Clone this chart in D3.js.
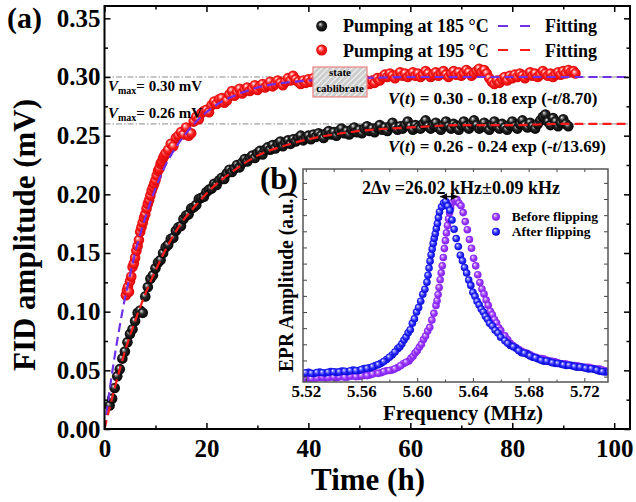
<!DOCTYPE html>
<meta charset="utf-8">
<head>
<title>FID amplitude vs pumping time</title>
<script src="https://d3js.org/d3.v7.min.js"></script>
<style>
body { margin: 0; background: #fff; }
svg text { font-family: "Liberation Serif", "Times New Roman", serif; font-weight: bold; fill: #000; }
</style>
</head>
<body>
<script>

// ---- data ----
// FID amplitude (mV) vs time (h), pumping at 185 C
var pump185 = [[1.0,.020],[1.5,.026],[2.0,.035],[2.5,.045],[3.0,.051],[3.5,.060],[4.0,.066],[4.5,.074],[5.0,.081],[5.5,.085],
  [6.0,.092],[6.5,.099],[7.0,.101],[7.5,.099],[8.0,.113],[8.5,.121],[9.0,.128],[9.5,.131],[10.0,.137],[10.5,.142],
  [11.0,.144],[11.5,.150],[12.0,.155],[12.5,.157],[13.0,.162],[13.5,.163],[14.0,.169],[14.5,.172],[15.0,.173],[15.5,.179],
  [16.0,.182],[16.5,.183],[17.0,.188],[17.5,.189],[18.0,.191],[18.5,.196],[19.0,.197],[19.5,.198],[20.0,.202],[20.5,.204],
  [21.0,.205],[21.5,.209],[22.0,.208],[22.5,.212],[23.0,.214],[23.5,.213],[24.0,.218],[24.5,.221],[25.0,.219],[25.5,.222],
  [26.0,.225],[26.5,.223],[27.0,.227],[27.5,.230],[28.0,.228],[28.5,.231],[29.0,.233],[29.5,.231],[30.0,.235],[30.5,.237],
  [31.0,.234],[31.5,.238],[32.0,.240],[32.5,.238],[33.0,.242],[33.5,.239],[34.0,.243],[34.5,.245],[35.0,.241],[35.5,.244],
  [36.0,.246],[36.5,.243],[37.0,.247],[37.5,.245],[38.0,.248],[38.5,.250],[39.0,.246],[39.5,.248],[40.0,.250],[40.5,.247],
  [41.0,.251],[41.5,.249],[42.0,.252],[42.5,.250],[43.0,.248],[43.5,.252],[44.0,.254],[44.5,.251],[45.0,.253],[45.5,.250],
  [46.0,.254],[46.5,.256],[47.0,.252],[47.5,.254],[48.0,.251],[48.5,.255],[49.0,.257],[49.5,.253],[50.0,.255],[50.5,.252],
  [51.0,.256],[51.5,.258],[52.0,.254],[52.5,.256],[53.0,.253],[53.5,.257],[54.0,.259],[54.5,.255],[55.0,.257],[55.5,.254],
  [56.0,.258],[56.5,.261],[57.0,.257],[57.5,.255],[58.0,.258],[58.5,.256],[59.0,.259],[59.5,.262],[60.0,.258],[60.5,.255],
  [61.0,.259],[61.5,.257],[62.0,.256],[62.5,.260],[63.0,.263],[63.5,.258],[64.0,.256],[64.5,.259],[65.0,.261],[65.5,.257],
  [66.0,.255],[66.5,.259],[67.0,.262],[67.5,.258],[68.0,.256],[68.5,.260],[69.0,.258],[69.5,.255],[70.0,.259],[70.5,.262],
  [71.0,.258],[71.5,.256],[72.0,.260],[72.5,.263],[73.0,.259],[73.5,.256],[74.0,.258],[74.5,.261],[75.0,.257],[75.5,.255],
  [76.0,.259],[76.5,.262],[77.0,.258],[77.5,.256],[78.0,.260],[78.5,.257],[79.0,.255],[79.5,.259],[80.0,.262],[80.5,.258],
  [81.0,.256],[81.5,.260],[82.0,.263],[82.5,.259],[83.0,.257],[83.5,.261],[84.0,.258],[84.5,.256],[85.0,.260],[85.5,.263],
  [86.0,.266],[86.5,.268],[87.0,.262],[87.5,.259],[88.0,.265],[88.5,.262],[89.0,.258],[89.5,.261],[90.0,.264],[90.5,.260],
  [91.0,.258]];

// pumping at 195 C
var pump195 = [[4.2,.114],[4.4,.118],[4.6,.121],[4.8,.117],[5.0,.126],[5.25,.130],[5.5,.138],[5.75,.141],[6.0,.146],[6.25,.152],
  [6.5,.156],[6.75,.161],[7.0,.168],[7.25,.172],[7.5,.176],[7.75,.180],[8.0,.183],[8.25,.188],[8.5,.192],[8.75,.195],
  [9.0,.199],[9.25,.203],[9.5,.206],[9.75,.209],[10.0,.212],[10.25,.216],[10.5,.220],[10.75,.222],[11.0,.226],[11.25,.228],
  [11.5,.231],[11.75,.233],[12.0,.235],[12.5,.238],[13.0,.243],[13.5,.241],[14.0,.248],[14.5,.250],[15.0,.253],[15.5,.251],
  [16.0,.257],[16.5,.250],[17.0,.252],[17.5,.262],[18.0,.266],[18.5,.264],[19.0,.269],[19.5,.271],[20.0,.272],[20.5,.270],
  [21.0,.276],[21.5,.279],[22.0,.277],[22.5,.281],[23.0,.282],[23.5,.278],[24.0,.280],[24.5,.285],[25.0,.288],[25.5,.284],
  [26.0,.287],[26.5,.290],[27.0,.286],[27.5,.289],[28.0,.291],[28.5,.288],[29.0,.290],[29.5,.293],[30.0,.289],[30.5,.292],
  [31.0,.294],[31.5,.291],[32.0,.293],[32.5,.296],[33.0,.292],[33.5,.294],[34.0,.297],[34.5,.295],[35.0,.293],[35.5,.296],
  [36.0,.299],[36.5,.297],[37.0,.301],[37.5,.298],[38.0,.296],[38.5,.294],[39.0,.297],[39.5,.295],[40.0,.298],[40.5,.296],
  [41.0,.299],[41.5,.297],[42.0,.300],[42.5,.298],[43.0,.301],[43.5,.299],[44.0,.297],[44.5,.300],[45.0,.302],[45.5,.299],
  [46.0,.298],[46.5,.301],[47.0,.299],[47.5,.297],[48.0,.300],[48.5,.298],[49.0,.296],[49.5,.299],[50.0,.297],[50.5,.295],
  [51.0,.298],[51.5,.296],[52.0,.294],[52.5,.297],[53.0,.295],[53.5,.299],[54.0,.297],[54.5,.300],[55.0,.302],[55.5,.300],
  [56.0,.303],[56.5,.301],[57.0,.299],[57.5,.302],[58.0,.304],[58.5,.301],[59.0,.303],[59.5,.300],[60.0,.302],[60.5,.304],
  [61.0,.301],[61.5,.303],[62.0,.300],[62.5,.302],[63.0,.305],[63.5,.303],[64.0,.300],[64.5,.302],[65.0,.304],[65.5,.301],
  [66.0,.303],[66.5,.305],[67.0,.302],[67.5,.300],[68.0,.303],[68.5,.305],[69.0,.302],[69.5,.304],[70.0,.301],[70.5,.303],
  [71.0,.306],[71.5,.304],[72.0,.301],[72.5,.303],[73.0,.305],[73.5,.307],[74.0,.304],[74.5,.306],[75.0,.303],[75.5,.299],
  [76.0,.296],[76.5,.294],[77.0,.297],[77.5,.295],[78.0,.298],[78.5,.300],[79.0,.297],[79.5,.301],[80.0,.299],[80.5,.302],
  [81.0,.300],[81.5,.303],[82.0,.301],[82.5,.299],[83.0,.302],[83.5,.304],[84.0,.301],[84.5,.303],[85.0,.300],[85.5,.302],
  [86.0,.305],[86.5,.303],[87.0,.301],[87.5,.303],[88.0,.300],[88.5,.302],[89.0,.304],[89.5,.302],[90.0,.305],[90.5,.303],
  [91.0,.306],[91.5,.304],[92.0,.305],[92.4,.303]];

// fitted curves as drawn
var fit195 = [[0,0],[1,.033],[2,.062],[3,.088],[4,.111],[5,.131],[6,.150],[7,.166],[8,.180],[9,.193],[10,.205],
  [12,.225],[14,.240],[16,.252],[18,.262],[20,.270],[23,.279],[26,.285],[30,.291],[35,.295],[40,.297],[50,.299],
  [60,.300],[80,.300],[103.1,.300]];
var fit185 = [[0,0],[1,.018],[2,.035],[3,.051],[4,.066],[6,.092],[8,.115],[10,.135],[12,.153],[15,.175],[18,.191],
  [21,.205],[25,.219],[30,.233],[35,.241],[40,.247],[45,.251],[50,.254],[60,.257],[70,.259],[80,.259],[90,.260],
  [103.1,.260]];

var vmax = [0.30, 0.26];
var fitText = ["0.30 - 0.18 exp (-", "0.26 - 0.24 exp (-"];
var fitTau = ["8.70", "13.69"];
var seriesNames = ["Pumping at 185 \u00B0C", "Pumping at 195 \u00B0C"];

var xMajor = [0, 20, 40, 60, 80, 100], xMinor = [10, 30, 50, 70, 90];
var yMajor = [0, .05, .10, .15, .20, .25, .30, .35];
var yMinor = [.025, .075, .125, .175, .225, .275, .325];

// inset: EPR amplitude (a.u.) vs frequency (MHz)
var beforeFlip = [[5.518,-.013],[5.522,-.010],[5.526,-.014],[5.530,-.006],[5.534,-.009],[5.538,-.002],[5.542,-.007],
  [5.546,.001],[5.550,-.003],[5.554,.004],[5.558,.001],[5.562,.007],[5.566,.010],[5.570,.022],[5.574,.024],[5.578,.036],
  [5.582,.041],[5.586,.056],[5.590,.080],[5.594,.097],[5.5955,.113],[5.597,.126],[5.5985,.146],[5.600,.160],[5.6015,.181],
  [5.603,.200],[5.6045,.230],[5.606,.251],[5.6075,.282],[5.609,.305],[5.6105,.350],[5.612,.392],[5.6135,.441],[5.61425,.470],
  [5.615,.508],[5.61575,.552],[5.6165,.600],[5.61725,.643],[5.618,.686],[5.61875,.738],[5.6195,.793],[5.62025,.842],
  [5.621,.890],[5.62175,.936],[5.6225,.978],[5.62325,1.015],[5.624,1.045],[5.6255,1.080],[5.627,1.092],[5.6285,1.097],
  [5.630,1.074],[5.6315,1.058],[5.633,1.016],[5.6345,.960],[5.636,.910],[5.6375,.849],[5.639,.795],[5.6405,.733],
  [5.642,.686],[5.6435,.631],[5.645,.583],[5.6465,.543],[5.648,.512],[5.6495,.474],[5.651,.442],[5.6525,.405],[5.654,.383],
  [5.6555,.354],[5.657,.332],[5.6585,.303],[5.660,.285],[5.663,.252],[5.667,.205],[5.671,.178],[5.675,.156],[5.679,.144],
  [5.683,.126],[5.687,.113],[5.691,.108],[5.695,.096],[5.699,.091],[5.703,.080],[5.707,.078],[5.711,.068],[5.715,.067],
  [5.719,.058],[5.723,.057],[5.727,.049],[5.731,.046],[5.735,.036],
  [5.520,-.008],[5.524,-.013],[5.528,-.009],[5.532,-.004],[5.536,-.006],[5.540,-.003],[5.544,-.002],[5.548,-.004],
  [5.552,.002],[5.556,.000],[5.560,.005],[5.564,.006],[5.568,.016],[5.572,.020],[5.576,.031],[5.580,.038],[5.584,.048],
  [5.588,.067],[5.592,.089],[5.665,.228],[5.669,.190],[5.673,.168],[5.677,.149],[5.681,.135],[5.685,.119],[5.689,.111],
  [5.693,.101],[5.697,.094],[5.701,.085],[5.705,.079],[5.709,.072],[5.713,.068],[5.717,.062],[5.721,.057],[5.725,.053],
  [5.729,.047],[5.733,.041]];
var afterFlip = [[5.518,.018],[5.522,.026],[5.526,.019],[5.530,.028],[5.534,.022],[5.538,.031],[5.542,.026],[5.546,.034],
  [5.550,.030],[5.554,.040],[5.558,.038],[5.562,.050],[5.566,.054],[5.570,.068],[5.574,.082],[5.578,.106],[5.582,.134],
  [5.586,.173],[5.5875,.185],[5.589,.203],[5.5905,.226],[5.592,.245],[5.5935,.272],[5.595,.290],[5.5965,.330],[5.598,.358],
  [5.5995,.400],[5.601,.428],[5.6025,.467],[5.604,.510],[5.6055,.541],[5.607,.585],[5.60775,.628],[5.6085,.672],
  [5.60925,.715],[5.610,.755],[5.61075,.790],[5.6115,.825],[5.61225,.857],[5.613,.885],[5.61375,.917],[5.6145,.948],
  [5.61525,.985],[5.616,1.020],[5.6175,1.052],[5.619,1.075],[5.6205,1.085],[5.622,1.056],[5.6235,1.030],[5.625,.970],
  [5.6265,.913],[5.628,.855],[5.6295,.806],[5.631,.752],[5.6325,.718],[5.634,.676],[5.6355,.642],[5.637,.598],[5.6385,.565],
  [5.640,.522],[5.6415,.497],[5.643,.466],[5.6445,.444],[5.646,.418],[5.6475,.400],[5.649,.374],[5.6505,.355],[5.652,.330],
  [5.654,.313],[5.656,.287],[5.658,.270],[5.660,.244],[5.663,.222],[5.667,.193],[5.671,.175],[5.675,.148],[5.679,.139],
  [5.683,.120],[5.687,.109],[5.691,.095],[5.695,.093],[5.699,.082],[5.703,.079],[5.707,.069],[5.711,.068],[5.715,.058],
  [5.719,.057],[5.723,.047],[5.727,.046],[5.731,.033],[5.735,.028],
  [5.520,.023],[5.524,.021],[5.528,.025],[5.532,.024],[5.536,.027],[5.540,.030],[5.544,.029],[5.548,.033],[5.552,.036],
  [5.556,.037],[5.560,.044],[5.564,.051],[5.568,.061],[5.572,.074],[5.576,.093],[5.580,.120],[5.584,.152],
  [5.665,.206],[5.669,.185],[5.673,.160],[5.677,.145],[5.681,.128],[5.685,.116],[5.689,.101],[5.693,.096],[5.697,.086],
  [5.701,.081],[5.705,.073],[5.709,.070],[5.713,.062],[5.717,.059],[5.721,.052],[5.725,.049],[5.729,.040],[5.733,.031]];
var splitFreqs = [5.6165, 5.629], splitLevel = 1.115;
var fMajor = [5.52, 5.56, 5.60, 5.64, 5.68, 5.72], fMinor = [5.54, 5.58, 5.62, 5.66, 5.70];
var aTicks = [0, .1, .2, .3, .4, .5, .6, .7, .8, .9, 1.0, 1.1, 1.2];
var insetNames = ["Before flipping", "After flipping"];

// ---- set up ----
var svg = d3.select("body").append("svg").attr("width", 636).attr("height", 502);
var defs = svg.append("defs");

var x = d3.scaleLinear().domain([0, 103.1]).range([104.5, 630]);
var y = d3.scaleLinear().domain([0, 0.3605]).range([429, 6]);

var fx = d3.scaleLinear().domain([5.518, 5.737]).range([303, 608]);
var fy = d3.scaleLinear().domain([-0.0335, 1.286]).range([382, 169]);

// shaded balls
function ball(id, stops) {
  var g = defs.append("radialGradient").attr("id", id)
      .attr("cx", "50%").attr("cy", "50%").attr("r", "55%")
      .attr("fx", "35%").attr("fy", "32%");
  stops.forEach(function(s) { g.append("stop").attr("offset", s[0]).attr("stop-color", s[1]); });
}
ball("ballK", [["0%","#ffffff"],["14%","#a0a0a0"],["42%","#262626"],["100%","#000000"]]);
ball("ballR", [["0%","#ffffff"],["18%","#ffa0a0"],["50%","#ff2020"],["100%","#d00000"]]);
ball("ballP", [["0%","#ffffff"],["20%","#cc99ff"],["55%","#9933ff"],["100%","#7a1fe6"]]);
ball("ballB", [["0%","#ffffff"],["20%","#9999ff"],["55%","#2a2aff"],["100%","#0000cc"]]);

var hatch = defs.append("pattern").attr("id", "hatch")
    .attr("patternUnits", "userSpaceOnUse").attr("width", 6).attr("height", 6);
hatch.append("rect").attr("width", 6).attr("height", 6).attr("fill", "#cdcdcd");
hatch.append("path").attr("d", "M-1,7 L7,-1 M-1,1 L1,-1 M5,7 L7,5")
    .attr("stroke", "#f4f4f4").attr("stroke-width", 1.2);

defs.append("clipPath").attr("id", "clipMain").append("rect")
    .attr("x", 104.5).attr("y", 6).attr("width", 525.5).attr("height", 423);
defs.append("clipPath").attr("id", "clipInset").append("rect")
    .attr("x", 303).attr("y", 169).attr("width", 305).attr("height", 213);

var arrow = defs.append("marker").attr("id", "arr").attr("viewBox", "0 0 8 8")
    .attr("refX", 8).attr("refY", 4).attr("markerWidth", 7).attr("markerHeight", 7)
    .attr("markerUnits", "userSpaceOnUse").attr("orient", "auto-start-reverse");
arrow.append("path").attr("d", "M0,0 L8,4 L0,8 z").attr("fill", "#000");

var purple = "#7030e8", red = "#ff1a1a";

// ---- main plot ----
var plot = svg.append("g").attr("clip-path", "url(#clipMain)");

// Vmax reference lines
plot.selectAll(".ref").data(vmax).join("line")
    .attr("x1", x(0)).attr("x2", x(103.1))
    .attr("y1", function(d) { return y(d); }).attr("y2", function(d) { return y(d); })
    .attr("stroke", "#8c8c8c").attr("stroke-width", 1).attr("stroke-dasharray", "6,2,1.5,2");

plot.append("g").selectAll("circle").data(pump185).join("circle")
    .attr("cx", function(d) { return x(d[0]); })
    .attr("cy", function(d) { return y(d[1]); })
    .attr("r", 5.3).attr("fill", "url(#ballK)");
plot.append("g").selectAll("circle").data(pump195).join("circle")
    .attr("cx", function(d) { return x(d[0]); })
    .attr("cy", function(d) { return y(d[1]); })
    .attr("r", 5.3).attr("fill", "url(#ballR)");

// "state cablibrate" marker box
var box = {t0: 40.9, t1: 51.5, v0: 0.283, v1: 0.3085};
svg.append("rect")
    .attr("x", x(box.t0)).attr("y", y(box.v1))
    .attr("width", x(box.t1) - x(box.t0)).attr("height", y(box.v0) - y(box.v1))
    .attr("fill", "url(#hatch)").attr("stroke", "#ee8080").attr("stroke-width", 1.2);
svg.append("text").attr("x", x((box.t0 + box.t1) / 2)).attr("y", 75.5)
    .attr("text-anchor", "middle").style("font-size", "11px").text("state");
svg.append("text").attr("x", x((box.t0 + box.t1) / 2)).attr("y", 92)
    .attr("text-anchor", "middle").style("font-size", "11px").text("cablibrate");

var line = d3.line().x(function(d) { return x(d[0]); }).y(function(d) { return y(d[1]); })
    .curve(d3.curveMonotoneX);
plot.append("path").datum(fit195).attr("d", line).attr("fill", "none")
    .attr("stroke", purple).attr("stroke-width", 2.2).attr("stroke-dasharray", "9,5");
plot.append("path").datum(fit185).attr("d", line).attr("fill", "none")
    .attr("stroke", red).attr("stroke-width", 2.2).attr("stroke-dasharray", "9,5");

// axes
function axisG(axis, tx, ty, col, w) {
  var g = svg.append("g").attr("transform", "translate(" + tx + "," + ty + ")").call(axis);
  g.select(".domain").remove();
  g.selectAll(".tick line").attr("stroke", col || "#000").attr("stroke-width", w || 1.5);
  return g;
}
axisG(d3.axisBottom(x).tickValues(xMajor).tickSize(-6).tickPadding(10).tickFormat(d3.format("d")), 0, 429)
    .selectAll("text").style("font-size", "25px");
axisG(d3.axisBottom(x).tickValues(xMinor).tickSize(-3.5).tickFormat(""), 0, 429);
axisG(d3.axisTop(x).tickValues(xMajor).tickSize(-6).tickFormat(""), 0, 6);
axisG(d3.axisTop(x).tickValues(xMinor).tickSize(-3.5).tickFormat(""), 0, 6);
axisG(d3.axisLeft(y).tickValues(yMajor).tickSize(-6).tickPadding(4).tickFormat(d3.format(".2f")), 104.5, 0)
    .selectAll("text").style("font-size", "25px");
axisG(d3.axisLeft(y).tickValues(yMinor).tickSize(-3.5).tickFormat(""), 104.5, 0);
axisG(d3.axisRight(y).tickValues(yMajor).tickSize(-6).tickFormat(""), 630, 0);
axisG(d3.axisRight(y).tickValues(yMinor).tickSize(-3.5).tickFormat(""), 630, 0);

svg.append("rect").attr("x", 104.5).attr("y", 6).attr("width", 525.5).attr("height", 423)
    .attr("fill", "none").attr("stroke", "#000").attr("stroke-width", 2);

svg.append("text").attr("x", 368).attr("y", 490).attr("text-anchor", "middle")
    .style("font-size", "31px").text("Time (h)");
svg.append("text").attr("transform", "translate(35,235) rotate(-90)").attr("text-anchor", "middle")
    .style("font-size", "31px").text("FID amplitude (mV)");
svg.append("text").attr("x", 7).attr("y", 28).style("font-size", "30px").text("(a)");

// text with italic / subscript pieces
function richText(px, py, size, parts) {
  var t = svg.append("text").attr("x", px).attr("y", py).style("font-size", size + "px");
  parts.forEach(function(p) {
    var s = t.append("tspan").text(p.s);
    if (p.it) s.style("font-style", "italic");
    if (p.size) s.style("font-size", p.size + "px");
    if (p.dy) s.attr("dy", p.dy);
  });
  return t;
}
richText(108, 91, 15, [{s: "V", it: 1}, {s: "max", size: 10, dy: 3}, {s: "= " + vmax[0].toFixed(2) + " mV", dy: -3}]);
richText(108, 118, 15, [{s: "V", it: 1}, {s: "max", size: 10, dy: 3}, {s: "= " + vmax[1].toFixed(2) + " mV", dy: -3}]);

[103.5, 151.5].forEach(function(py, i) {
  richText(388, py, 17, [{s: "V", it: 1}, {s: "("}, {s: "t", it: 1}, {s: ") = " + fitText[i]},
    {s: "t", it: 1}, {s: "/" + fitTau[i] + ")"}]);
});

// legend
var legend = [{fill: "url(#ballK)", dash: purple, cy: 26, ty: 32},
              {fill: "url(#ballR)", dash: red, cy: 50, ty: 57}];
legend.forEach(function(d, i) {
  svg.append("circle").attr("cx", 321.7).attr("cy", d.cy).attr("r", 5.5).attr("fill", d.fill);
  svg.append("text").attr("x", 343).attr("y", d.ty).style("font-size", "18px").text(seriesNames[i]);
  svg.append("line").attr("x1", 498).attr("x2", 530).attr("y1", d.cy).attr("y2", d.cy)
      .attr("stroke", d.dash).attr("stroke-width", 2.2).attr("stroke-dasharray", "10,12");
  svg.append("text").attr("x", 545).attr("y", d.ty).style("font-size", "18px").text("Fitting");
});

// ---- inset ----
svg.append("rect").attr("x", 303).attr("y", 169).attr("width", 305).attr("height", 213).attr("fill", "#fff");
var ins = svg.append("g").attr("clip-path", "url(#clipInset)");
ins.append("g").selectAll("circle").data(beforeFlip).join("circle")
    .attr("cx", function(d) { return fx(d[0]); })
    .attr("cy", function(d) { return fy(d[1]); })
    .attr("r", 3.8).attr("fill", "url(#ballP)");
ins.append("g").selectAll("circle").data(afterFlip).join("circle")
    .attr("cx", function(d) { return fx(d[0]); })
    .attr("cy", function(d) { return fy(d[1]); })
    .attr("r", 3.8).attr("fill", "url(#ballB)");

axisG(d3.axisBottom(fx).tickValues(fMajor).tickSize(-4).tickPadding(3).tickFormat(d3.format(".2f")), 0, 382, "#444", 1)
    .selectAll("text").style("font-size", "17px");
axisG(d3.axisBottom(fx).tickValues(fMinor).tickSize(-2.5).tickFormat(""), 0, 382, "#444", 1);
axisG(d3.axisTop(fx).tickValues(fMajor.concat(fMinor)).tickSize(-3).tickFormat(""), 0, 169, "#444", 1);
axisG(d3.axisLeft(fy).tickValues(aTicks).tickSize(-4).tickFormat(""), 303, 0, "#444", 1);
axisG(d3.axisRight(fy).tickValues(aTicks).tickSize(-4).tickFormat(""), 608, 0, "#444", 1);

svg.append("rect").attr("x", 303).attr("y", 169).attr("width", 305).attr("height", 213)
    .attr("fill", "none").attr("stroke", "#555").attr("stroke-width", 1.5);

svg.append("line")
    .attr("x1", fx(splitFreqs[0])).attr("x2", fx(splitFreqs[1]))
    .attr("y1", fy(splitLevel)).attr("y2", fy(splitLevel))
    .attr("stroke", "#000").attr("stroke-width", 1.5)
    .attr("marker-start", "url(#arr)").attr("marker-end", "url(#arr)");

svg.append("text").attr("x", 362).attr("y", 193.5).style("font-size", "18px")
    .text("2\u0394\u03BD =26.02 kHz\u00B10.09 kHz");

[["url(#ballP)", 216.7], ["url(#ballB)", 231.7]].forEach(function(d, i) {
  svg.append("circle").attr("cx", 496).attr("cy", d[1]).attr("r", 4).attr("fill", d[0]);
  svg.append("text").attr("x", 511.7).attr("y", d[1] + 4.6).style("font-size", "13.5px").text(insetNames[i]);
});

svg.append("text").attr("x", 463).attr("y", 420).attr("text-anchor", "middle")
    .style("font-size", "21px").text("Frequency (MHz)");
svg.append("text").attr("transform", "translate(293,282) rotate(-90)").attr("text-anchor", "middle")
    .attr("textLength", 180).attr("lengthAdjust", "spacingAndGlyphs")
    .style("font-size", "21px").text("EPR Amplitude (a.u.)");
svg.append("text").attr("x", 260).attr("y", 189).style("font-size", "31px").text("(b)");

</script>
</body>
